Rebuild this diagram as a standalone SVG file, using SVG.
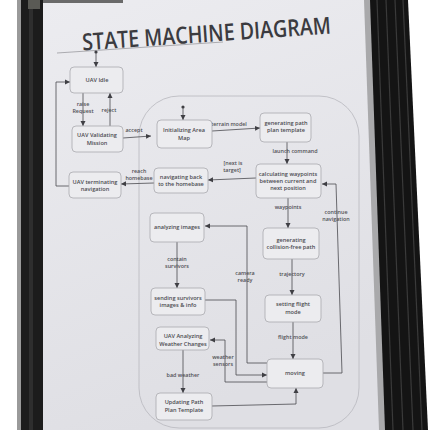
<svg xmlns="http://www.w3.org/2000/svg" width="430" height="430" viewBox="0 0 430 430">
<defs>
<linearGradient id="paper" x1="0" y1="0" x2="0.3" y2="1">
<stop offset="0" stop-color="#ececf0"/>
<stop offset="1" stop-color="#dfdfe4"/>
</linearGradient>
<marker id="ah" markerWidth="6" markerHeight="6" refX="5" refY="3" orient="auto" markerUnits="userSpaceOnUse">
<path d="M0,0.5 L5,3 L0,5.5 Z" fill="#3f3f44"/>
</marker>
<style>
.node rect{fill:#ececef;stroke:#a9a9ae;stroke-width:0.8}
.nt{font-family:"Open Sans","DejaVu Sans",sans-serif;font-size:5.6px;font-weight:600;fill:#4b4b50;text-anchor:middle}
.lb{font-family:"Open Sans","DejaVu Sans",sans-serif;font-size:5.4px;font-weight:600;fill:#505055;text-anchor:middle}
.cn{fill:none;stroke:#4a4a4f;stroke-width:0.8;marker-end:url(#ah)}
</style>
</defs>
<rect width="430" height="430" fill="#ffffff"/>
<!-- frame left -->
<rect x="17" y="0" width="4" height="430" fill="#9a9a9a"/>
<rect x="21" y="0" width="22" height="430" fill="#1c1c1c"/>
<rect x="29" y="0" width="4" height="430" fill="#2e2e2e"/>
<rect x="28" y="0" width="12" height="9" fill="#5a5a55"/>
<!-- paper -->
<polygon points="43,0 368,0 381,430 43,430" fill="url(#paper)"/>
<rect x="43" y="0" width="80" height="3" fill="#6a6a6a"/>
<!-- frame right -->
<polygon points="364,0 371,0 386,430 379,430" fill="#a9a9ab"/>
<polygon points="370,0 408,0 428,430 385,430" fill="#141414"/>
<g stroke="#3a3a3a" stroke-width="1.2">
<line x1="377" y1="0" x2="393" y2="430"/>
<line x1="386" y1="0" x2="403" y2="430"/>
<line x1="395" y1="0" x2="413" y2="430"/>
<line x1="403" y1="0" x2="422" y2="430"/>
</g>
<!-- title -->
<g transform="rotate(-3.9 206 34)">
<text x="82" y="42" textLength="249" lengthAdjust="spacingAndGlyphs" font-family="'Open Sans','DejaVu Sans',sans-serif" font-size="23.5" font-weight="600" fill="#3b3b40">STATE MACHINE DIAGRAM</text>
</g>
<line x1="57" y1="53" x2="223" y2="42" stroke="#9a9aa0" stroke-width="0.8"/>
<!-- composite container -->
<rect x="139" y="96" width="220" height="332" rx="40" fill="none" stroke="#b8b8be" stroke-width="0.8"/>
<!-- connectors -->
<g id="connectors">
<circle cx="96" cy="52" r="1.6" fill="#3f3f44"/>
<line class="cn" x1="96" y1="53" x2="96" y2="67"/>
<circle cx="183" cy="107" r="1.6" fill="#3f3f44"/>
<line class="cn" x1="183" y1="108" x2="183" y2="120"/>
<line class="cn" x1="83" y1="93" x2="83" y2="126"/>
<line class="cn" x1="110" y1="126" x2="110" y2="93"/>
<line class="cn" x1="123" y1="138" x2="151" y2="136"/>
<line class="cn" x1="212" y1="131" x2="260" y2="128"/>
<line class="cn" x1="287" y1="142" x2="287" y2="164"/>
<line class="cn" x1="256" y1="178" x2="208" y2="180"/>
<line class="cn" x1="154" y1="183" x2="121" y2="184"/>
<polyline class="cn" points="69,186 56,186 56,82 70,82"/>
<line class="cn" x1="288" y1="198" x2="288" y2="228"/>
<line class="cn" x1="292" y1="259" x2="292" y2="295"/>
<line class="cn" x1="293" y1="322" x2="293" y2="359"/>
<polyline class="cn" points="323,373 342,373 336,184 322,184"/>
<polyline class="cn" points="267,363 247,363 247,226 205,226"/>
<line class="cn" x1="177" y1="242" x2="177" y2="288"/>
<polyline class="cn" points="205,300 236,300 236,375 267,375"/>
<polyline class="cn" points="267,382 225,382 225,340 210,340"/>
<line class="cn" x1="183" y1="350" x2="183" y2="393"/>
<polyline class="cn" points="212,406 296,404 296,388"/>
</g>
<!-- connector labels -->
<g id="labels">
<text class="lb" x="83" y="106">raise</text>
<text class="lb" x="83" y="113">Request</text>
<text class="lb" x="109" y="112">reject</text>
<text class="lb" x="134" y="132">accept</text>
<text class="lb" x="229" y="126">terrain model</text>
<text class="lb" x="295" y="153">launch command</text>
<text class="lb" x="233" y="165">[next is</text>
<text class="lb" x="232" y="172">target]</text>
<text class="lb" x="139" y="173">reach</text>
<text class="lb" x="139" y="180">homebase</text>
<text class="lb" x="288" y="209">waypoints</text>
<text class="lb" x="336" y="214">continue</text>
<text class="lb" x="336" y="221">navigation</text>
<text class="lb" x="177" y="261">contain</text>
<text class="lb" x="177" y="268">survivors</text>
<text class="lb" x="245" y="275">camera</text>
<text class="lb" x="245" y="282">ready</text>
<text class="lb" x="292" y="276">trajectory</text>
<text class="lb" x="293" y="339">flight mode</text>
<text class="lb" x="223" y="359">weather</text>
<text class="lb" x="223" y="366">sensors</text>
<text class="lb" x="183" y="377">bad weather</text>
</g>
<!-- nodes -->
<g id="uav-idle" class="node"><rect x="70" y="67" width="53" height="26" rx="4"/><text class="nt" x="97" y="82">UAV Idle</text></g>
<g id="uav-validating" class="node"><rect x="72" y="126" width="51" height="26" rx="4"/><text class="nt" x="97" y="137">UAV Validating</text><text class="nt" x="97" y="145">Mission</text></g>
<g id="init-area" class="node"><rect x="157" y="120" width="55" height="28" rx="4"/><text class="nt" x="184" y="132">Initializing Area</text><text class="nt" x="184" y="140">Map</text></g>
<g id="gen-path" class="node"><rect x="260" y="113" width="51" height="29" rx="4"/><text class="nt" x="286" y="125">generating path</text><text class="nt" x="286" y="132">plan template</text></g>
<g id="calc-waypoints" class="node"><rect x="256" y="164" width="65" height="34" rx="4"/><text class="nt" x="288" y="176">calculating waypoints</text><text class="nt" x="288" y="183">between current and</text><text class="nt" x="288" y="190">next position</text></g>
<g id="nav-back" class="node"><rect x="154" y="168" width="54" height="25" rx="4"/><text class="nt" x="181" y="179">navigating back</text><text class="nt" x="181" y="186">to the homebase</text></g>
<g id="uav-terminating" class="node"><rect x="69" y="172" width="52" height="26" rx="4"/><text class="nt" x="95" y="184">UAV terminating</text><text class="nt" x="95" y="191">navigation</text></g>
<g id="gen-collision" class="node"><rect x="263" y="228" width="56" height="31" rx="4"/><text class="nt" x="291" y="242">generating</text><text class="nt" x="291" y="249">collision-free path</text></g>
<g id="analyzing-images" class="node"><rect x="150" y="213" width="54" height="29" rx="4"/><text class="nt" x="177" y="229">analyzing images</text></g>
<g id="setting-flight" class="node"><rect x="265" y="295" width="56" height="27" rx="4"/><text class="nt" x="293" y="306">setting flight</text><text class="nt" x="293" y="314">mode</text></g>
<g id="sending-survivors" class="node"><rect x="151" y="288" width="54" height="27" rx="4"/><text class="nt" x="178" y="300">sending survivors</text><text class="nt" x="178" y="307">images &amp; info</text></g>
<g id="uav-weather" class="node"><rect x="156" y="327" width="53" height="23" rx="4"/><text class="nt" x="183" y="338">UAV Analyzing</text><text class="nt" x="183" y="346">Weather Changes</text></g>
<g id="moving" class="node"><rect x="267" y="359" width="56" height="29" rx="4"/><text class="nt" x="295" y="375">moving</text></g>
<g id="updating-path" class="node"><rect x="156" y="393" width="56" height="27" rx="4"/><text class="nt" x="184" y="404">Updating Path</text><text class="nt" x="184" y="412">Plan Template</text></g>
</svg>
